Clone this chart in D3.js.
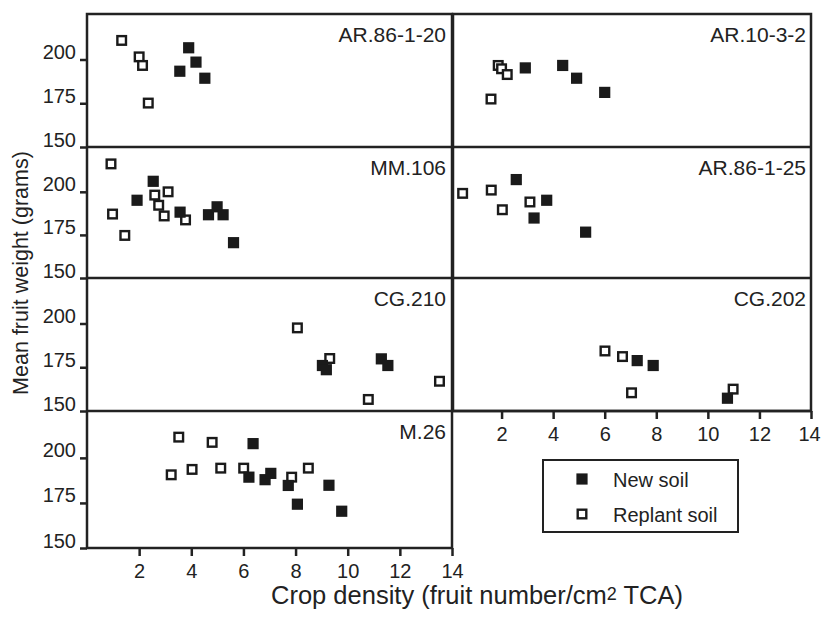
<!DOCTYPE html>
<html>
<head>
<meta charset="utf-8">
<script src="https://cdnjs.cloudflare.com/ajax/libs/d3/7.8.5/d3.min.js"></script>
<style>
  body { margin: 0; background: #fff; }
  svg { display: block; }
  text { font-family: "Liberation Sans", Arial, sans-serif; fill: #222; }
</style>
</head>
<body>
<svg id="chart" width="821" height="617"></svg>
<script>
// panel names, in reading order
const cultivars = ["AR.86-1-20", "AR.10-3-2", "MM.106", "AR.86-1-25", "CG.210", "CG.202", "M.26"];

// [crop density, mean fruit weight]
const newAR8620 = [[3.56, 193.3], [3.9, 206.7], [4.18, 198.5], [4.52, 189.3]];
const repAR8620 = [[1.33, 210.9], [2.0, 201.5], [2.13, 196.6], [2.35, 175.1]];

const newAR1032 = [[2.92, 195.2], [4.37, 196.6], [4.91, 189.3], [6.0, 181.2]];
const repAR1032 = [[1.87, 196.6], [2.0, 194.7], [2.22, 191.4], [1.59, 177.4]];

const newMM106 = [[1.92, 195.1], [2.54, 206.1], [3.57, 188.2], [4.66, 186.7], [4.99, 191.3], [5.22, 186.7], [5.62, 170.5]];
const repMM106 = [[0.92, 216.2], [0.98, 187.1], [1.45, 174.7], [2.6, 198.1], [2.75, 192.2], [3.11, 200], [2.96, 186], [3.78, 183.7]];

const newAR86125 = [[2.57, 207.1], [3.75, 195.1], [3.26, 184.8], [5.26, 176.6]];
const repAR86125 = [[0.49, 199.1], [1.6, 201], [2.03, 189.6], [3.1, 194.1]];

const newCG210 = [[9.03, 176], [9.18, 173.6], [11.29, 179.8], [11.54, 176]];
const repCG210 = [[8.07, 197.5], [9.31, 180], [10.79, 156.6], [13.52, 167]];

const newCG202 = [[7.26, 178.8], [7.88, 176], [10.76, 157.3]];
const repCG202 = [[6.01, 184.3], [6.69, 181.1], [7.04, 160.4], [10.98, 162.5]];

const newM26 = [[6.37, 207.9], [6.21, 189.3], [6.83, 187.9], [7.05, 191.4], [7.72, 184.7], [8.07, 174.3], [9.28, 184.8], [9.77, 170.4]];
const repM26 = [[3.52, 211.5], [3.23, 190.6], [4.03, 193.6], [4.8, 208.6], [5.13, 194.3], [6.01, 194.3], [7.85, 189.3], [8.49, 194.3]];

const newSoil = [newAR8620, newAR1032, newMM106, newAR86125, newCG210, newCG202, newM26];
const replantSoil = [repAR8620, repAR1032, repMM106, repAR86125, repCG210, repCG202, repM26];

const xTicks = [2, 4, 6, 8, 10, 12, 14];
const yTicks = [150, 175, 200];
const soilLabels = ["New soil", "Replant soil"];

// layout
const colFrame = [[87, 452], [453, 811]];
const colRange = [[87, 452], [450, 811]];
const rowY = [14, 147, 278, 411, 548];
const cellPos = [[0, 0], [1, 0], [0, 1], [1, 1], [0, 2], [1, 2], [0, 3]]; // [col,row]
const ink = "#222";
const tickFont = "20px";

const svg = d3.select("#chart");

const xScales = colRange.map(r => d3.scaleLinear().domain([0, 14]).range(r));
const yScales = rowY.slice(0, 4).map((top, i) =>
    d3.scaleLinear().domain([150, 226]).range([rowY[i + 1], top]));

function drawMarker(g, x, y, filled) {
    if (filled) {
        g.append("rect")
            .attr("x", x - 5.6).attr("y", y - 5.6)
            .attr("width", 11.2).attr("height", 11.2)
            .attr("fill", "#1a1a1a");
    } else {
        g.append("rect")
            .attr("x", x - 4.3).attr("y", y - 4.3)
            .attr("width", 8.6).attr("height", 8.6)
            .attr("fill", "#fff")
            .attr("stroke", "#1a1a1a")
            .attr("stroke-width", 2.4);
    }
}

// frame lines
const frame = svg.append("g")
    .attr("stroke", ink)
    .attr("stroke-width", 2.5)
    .attr("fill", "none");
// left column box
frame.append("rect")
    .attr("x", colFrame[0][0]).attr("y", rowY[0])
    .attr("width", colFrame[0][1] - colFrame[0][0])
    .attr("height", rowY[4] - rowY[0]);
// right column box
frame.append("rect")
    .attr("x", colFrame[1][0]).attr("y", rowY[0])
    .attr("width", colFrame[1][1] - colFrame[1][0])
    .attr("height", rowY[3] - rowY[0]);
// row dividers
[1, 2, 3].forEach(i => {
    frame.append("line")
        .attr("x1", colFrame[0][0]).attr("x2", colFrame[1][1])
        .attr("y1", rowY[i]).attr("y2", rowY[i]);
});

// y axes on the left column
yScales.forEach((ys, i) => {
    const ax = svg.append("g")
        .attr("transform", `translate(${colFrame[0][0]},0)`)
        .call(d3.axisLeft(ys).tickValues(yTicks).tickSize(7).tickPadding(4));
    ax.select(".domain").remove();
    ax.selectAll("line").attr("stroke", ink).attr("stroke-width", 2.5);
    ax.selectAll("text")
        .attr("dy", "0em")
        .attr("y", -1)
        .style("font-size", tickFont)
        .style("font-family", "'Liberation Sans', Arial, sans-serif")
        .attr("fill", ink);
});

// x axes: bottom of left column, bottom of right column
function xAxis(scale, y) {
    const ax = svg.append("g")
        .attr("transform", `translate(0,${y})`)
        .call(d3.axisBottom(scale).tickValues(xTicks).tickSize(8).tickPadding(8));
    ax.select(".domain").remove();
    ax.selectAll("line").attr("stroke", ink).attr("stroke-width", 2.5);
    ax.selectAll("text")
        .style("font-size", tickFont)
        .style("font-family", "'Liberation Sans', Arial, sans-serif")
        .attr("fill", ink);
    return ax;
}
xAxis(xScales[0], rowY[4]);
// last label of the right axis sits on the page edge; nudge it inside
xAxis(xScales[1], rowY[3]).selectAll("text")
    .filter(d => d === 14)
    .attr("x", -2);

// panels
cultivars.forEach((name, i) => {
    const [c, r] = cellPos[i];
    const xs = xScales[c], ys = yScales[r];
    const g = svg.append("g").attr("class", "panel");

    g.append("text")
        .attr("x", colFrame[c][1] - (c === 0 ? 6 : 5))
        .attr("y", rowY[r] + 28)
        .attr("text-anchor", "end")
        .style("font-size", "21px")
        .text(name);

    replantSoil[i].forEach(d => drawMarker(g, xs(d[0]), ys(d[1]), false));
    newSoil[i].forEach(d => drawMarker(g, xs(d[0]), ys(d[1]), true));
});

// legend
const leg = svg.append("g");
leg.append("rect")
    .attr("x", 543).attr("y", 460)
    .attr("width", 195).attr("height", 72)
    .attr("fill", "#fff")
    .attr("stroke", ink).attr("stroke-width", 2);
soilLabels.forEach((lab, i) => {
    const cy = 479 + i * 35;
    drawMarker(leg, 582, cy, i === 0);
    leg.append("text")
        .attr("x", 613).attr("y", cy + 7.5)
        .style("font-size", "20px")
        .text(lab);
});

// axis titles
svg.append("text")
    .attr("transform", "translate(28,273) rotate(-90)")
    .attr("text-anchor", "middle")
    .style("font-size", "21.5px")
    .text("Mean fruit weight (grams)");

const xt = svg.append("text")
    .attr("x", 477)
    .attr("y", 604)
    .attr("text-anchor", "middle")
    .style("font-size", "25.5px");
xt.append("tspan").text("Crop density (fruit number/cm");
xt.append("tspan").attr("dy", -4).style("font-size", "18px").text("2");
xt.append("tspan").attr("dy", 4).text(" TCA)");
</script>
</body>
</html>
